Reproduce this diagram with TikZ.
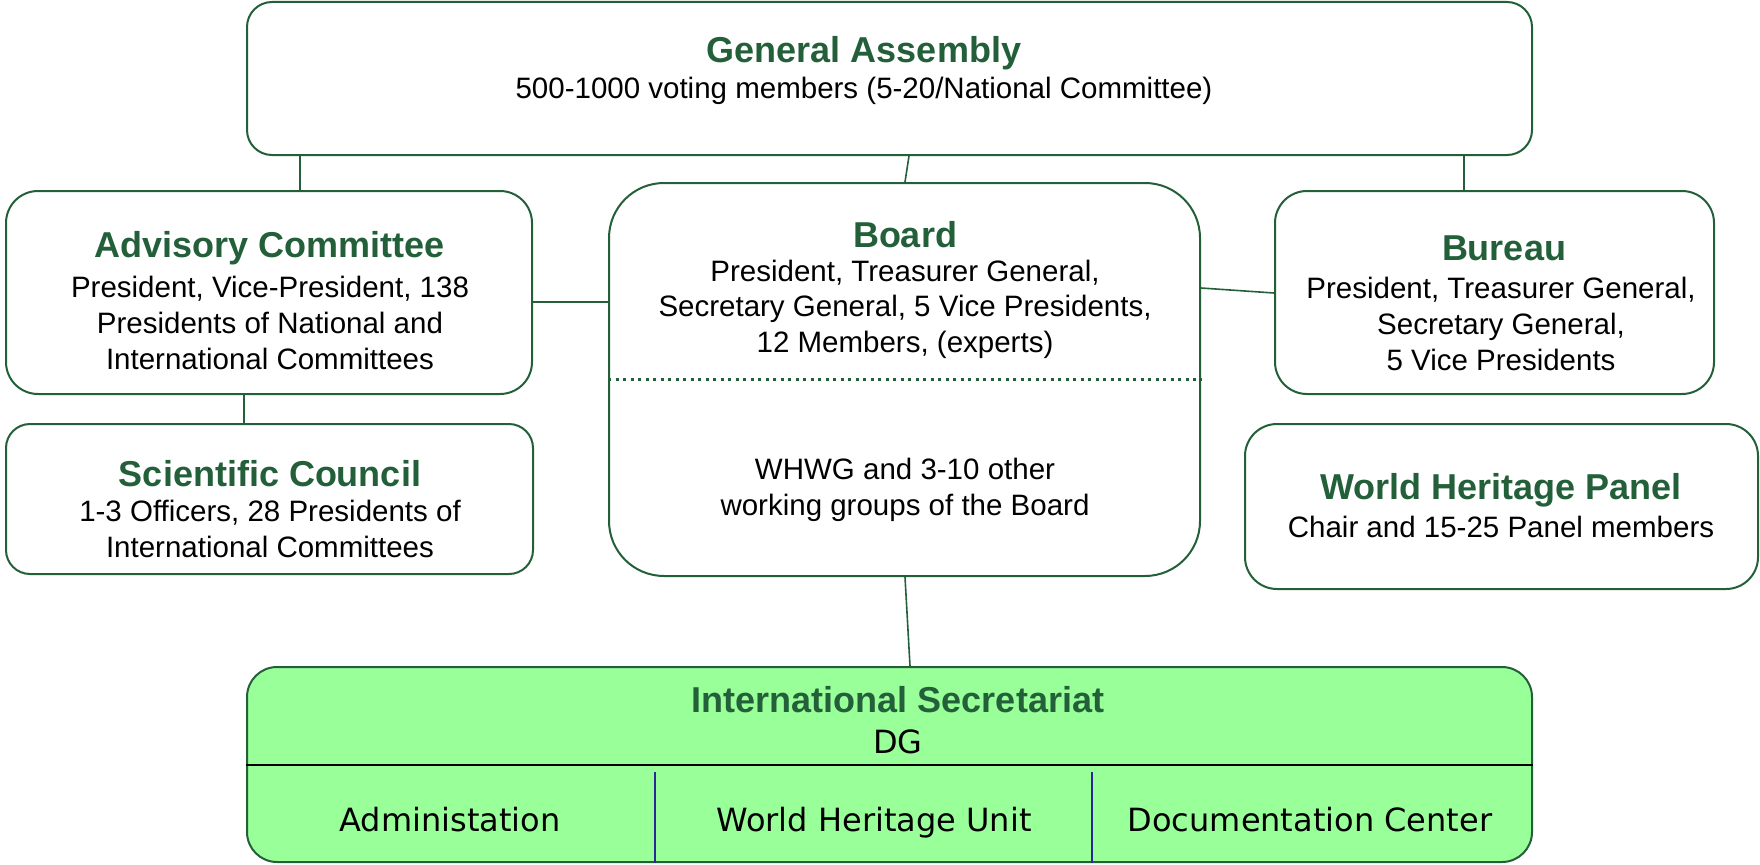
\documentclass[tikz,border=0pt]{standalone}
\usepackage{fontspec}
\setmainfont{Liberation Sans}
\newfontfamily\dvfont{DejaVu Sans}
\definecolor{dkgreen}{RGB}{35,96,58}
\definecolor{ltgreen}{RGB}{153,255,153}
\definecolor{divblue}{RGB}{40,40,150}
\tikzset{
  box/.style={draw=dkgreen, line width=2pt, rounded corners=#1, fill=white, inner sep=0pt},
  conn/.style={draw=dkgreen, line width=1.6pt},
  ttl/.style={font=\fontsize{36}{42}\selectfont\bfseries, text=dkgreen, inner sep=0pt},
  txt/.style={font=\fontsize{29.5}{35.6}\selectfont, align=center, inner sep=0pt},
  dvtxt/.style={font=\dvfont\fontsize{32}{38}\selectfont, align=center, inner sep=0pt},
}
\begin{document}
\begin{tikzpicture}[x=1pt,y=-1pt]
\useasboundingbox (0,0) rectangle (1760,864);
% boxes
\node[box=25pt, minimum width=1285pt, minimum height=153pt] (ga) at (889.5,78.5) {};
\node[box=32pt, minimum width=526pt, minimum height=203pt] (ac) at (269,292.5) {};
\node[box=24pt, minimum width=527pt, minimum height=150pt] (sc) at (269.5,499) {};
\node[box=55pt, minimum width=591pt, minimum height=393pt] (bd) at (904.5,379.5) {};
\node[box=32pt, minimum width=439pt, minimum height=203pt] (bu) at (1494.5,292.5) {};
\node[box=32pt, minimum width=513pt, minimum height=165pt] (wh) at (1501.5,506.5) {};
\node[box=30pt, fill=ltgreen, minimum width=1285pt, minimum height=195pt] (is) at (889.5,764.5) {};
% connectors
\draw[conn] (300,0 |- ga.south) -- (300,0 |- ac.north);
\draw[conn] (909,0 |- ga.south) -- (905,0 |- bd.north);
\draw[conn] (1464,0 |- ga.south) -- (1464,0 |- bu.north);
\draw[conn] (ac.east |- 0,302) -- (bd.west |- 0,302);
\draw[conn] (bd.east |- 0,288) -- (bu.west |- 0,293);
\draw[conn] (244,0 |- ac.south) -- (244,0 |- sc.north);
\draw[conn] (905,0 |- bd.south) -- (910,0 |- is.north);
% board divider
\draw[dkgreen, line width=3pt, dash pattern=on 3pt off 4.5pt] (bd.west |- 0,379) -- (bd.east |- 0,379);
% secretariat dividers
\draw[black, line width=2pt] (is.west |- 0,765) -- (is.east |- 0,765);
\coordinate (d1) at (655,772);
\coordinate (d2) at (1092,772);
\draw[divblue, line width=2.2pt] (d1) -- (d1 |- is.south);
\draw[divblue, line width=2.2pt] (d2) -- (d2 |- is.south);
% texts
\node[ttl] (gat) at (864,53) {General Assembly};
\node[txt] (gas) at (864,91) {500-1000 voting members (5-20/National Committee)};
\node[ttl] (act) at (270,248) {Advisory Committee};
\node[txt] (acs) at (270,323) {President, Vice-President, 138\\Presidents of National and\\International Committees};
\node[ttl] (sct) at (270,474) {Scientific Council};
\node[txt] (scs) at (270,529) {1-3 Officers, 28 Presidents of\\International Committees};
\node[ttl] (bdt) at (905,235) {Board};
\node[txt] (bds) at (905,309) {President, Treasurer General,\\Secretary General, 5 Vice Presidents,\\12 Members, (experts)};
\node[txt] (bdw) at (905,490) {WHWG and 3-10 other\\working groups of the Board};
\node[ttl] (but) at (1504,248) {Bureau};
\node[txt] (bus) at (1501,324) {President, Treasurer General,\\Secretary General,\\5 Vice Presidents};
\node[ttl] (wht) at (1501,490) {World Heritage Panel};
\node[txt] (whs) at (1501,527) {Chair and 15-25 Panel members};
\node[ttl] (ist) at (898,700) {International Secretariat};
\node[dvtxt] (isd) at (898,742) {DG};
\node[dvtxt, anchor=base] (is1) at (450,831) {Administation};
\node[dvtxt, anchor=base] (is2) at (874,831) {World Heritage Unit};
\node[dvtxt, anchor=base] (is3) at (1310,831) {Documentation Center};
\end{tikzpicture}
\end{document}
